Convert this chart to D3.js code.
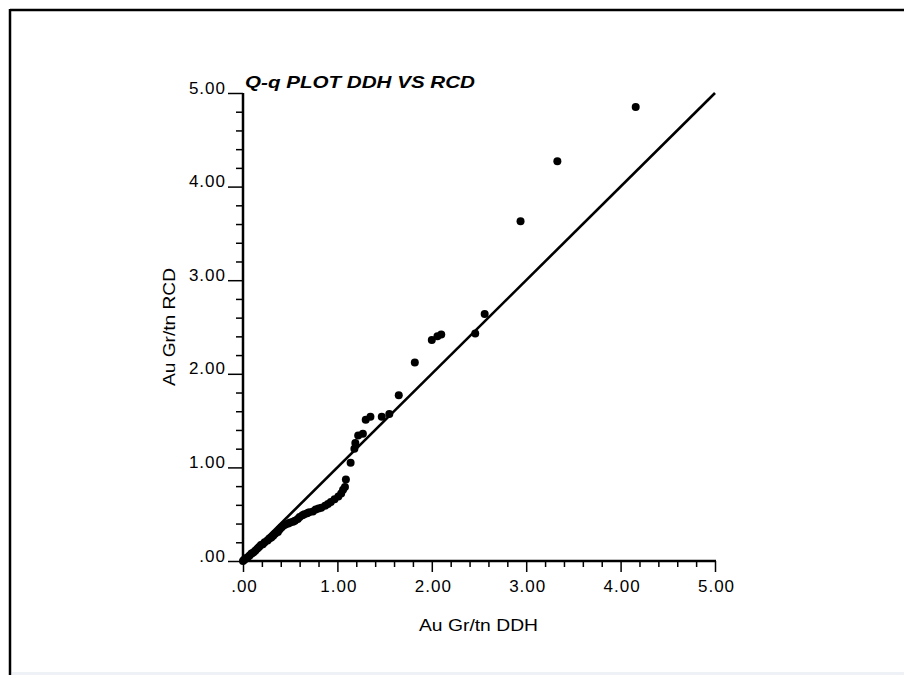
<!DOCTYPE html>
<html>
<head>
<meta charset="utf-8">
<script src="https://cdn.jsdelivr.net/npm/d3@7"></script>
<style>
  html, body { margin: 0; padding: 0; background: #fff; }
  svg { display: block; }
  text { font-family: "Liberation Sans", Arial, sans-serif; fill: #000; }
</style>
</head>
<body>
<svg id="chart" width="904" height="675"></svg>
<script>
// ---- data ----
const title = "Q-q PLOT DDH VS RCD";
const xTitle = "Au Gr/tn DDH";
const yTitle = "Au Gr/tn RCD";
const ddh = [0.00,0.01,0.02,0.03,0.05,0.07,0.09,0.11,0.13,0.15,0.17,0.19,0.21,0.23,0.26,0.28,0.30,0.32,0.34,0.37,0.39,0.41,0.43,0.45,0.48,0.50,0.53,0.55,0.58,0.60,0.63,0.65,0.68,0.70,0.74,0.77,0.80,0.83,0.87,0.90,0.93,0.97,1.01,1.04,1.06,1.08,1.09,1.14,1.18,1.19,1.22,1.27,1.30,1.35,1.47,1.55,1.65,1.82,2.00,2.06,2.10,2.46,2.56,2.94,3.33,4.16];
const rcd = [0.00,0.01,0.02,0.03,0.04,0.06,0.08,0.09,0.11,0.13,0.15,0.17,0.18,0.20,0.22,0.24,0.25,0.27,0.29,0.31,0.34,0.36,0.38,0.39,0.40,0.41,0.42,0.43,0.45,0.47,0.49,0.50,0.51,0.52,0.53,0.55,0.56,0.57,0.59,0.61,0.63,0.66,0.69,0.72,0.76,0.79,0.87,1.05,1.20,1.26,1.34,1.36,1.51,1.54,1.54,1.57,1.77,2.12,2.36,2.40,2.42,2.43,2.64,3.63,4.27,4.85];
const refLine = [0, 5];
const majorTicks = [0, 1, 2, 3, 4, 5];
const tickLabels = [".00", "1.00", "2.00", "3.00", "4.00", "5.00"];
const minorTicks = d3.range(0, 26).map(i => i / 5).filter(v => Math.abs(v - Math.round(v)) > 1e-9);

// ---- layout ----
const svg = d3.select("#chart");
const x = d3.scaleLinear().domain([0, 5]).range([243, 715]);
const y = d3.scaleLinear().domain([0, 5]).range([561, 93]);

// frame lines
svg.append("rect").attr("x", 12).attr("y", 672).attr("width", 892).attr("height", 3).attr("fill", "#eef1f5");
svg.append("line").attr("x1", 10).attr("x2", 904).attr("y1", 10).attr("y2", 10).attr("stroke", "#000").attr("stroke-width", 2.5);
svg.append("line").attr("x1", 10).attr("x2", 10).attr("y1", 9).attr("y2", 675).attr("stroke", "#000").attr("stroke-width", 2.5);

// axes via d3
const xMajor = d3.axisBottom(x).tickValues(majorTicks).tickSize(11).tickFormat((d, i) => tickLabels[i]);
const xMinor = d3.axisBottom(x).tickValues(minorTicks).tickSize(6).tickFormat("");
const yMajor = d3.axisLeft(y).tickValues(majorTicks).tickSize(15).tickFormat((d, i) => tickLabels[i]).tickPadding(2);
const yMinor = d3.axisLeft(y).tickValues(minorTicks).tickSize(7).tickFormat("");

function styleAxis(g) {
  g.attr("font-size", null).attr("font-family", null);
  g.select(".domain").remove();
  g.selectAll(".tick line").attr("stroke", "#000").attr("stroke-width", 1.5);
  g.selectAll("text")
    .style("font-size", "17px").style("letter-spacing", "1px")
    .style("font-family", "'Liberation Sans', Arial, sans-serif").attr("fill", "#000");
}

const gx = svg.append("g").attr("transform", `translate(0,${y(0)})`).call(xMajor).call(styleAxis);
gx.selectAll("text").attr("dy", null).attr("y", 31).attr("dx", "1px");
svg.append("g").attr("transform", `translate(0,${y(0)})`).call(xMinor).call(styleAxis);
const gy = svg.append("g").attr("transform", `translate(${x(0)},0)`).call(yMajor).call(styleAxis);
gy.selectAll("text").attr("dy", "0").attr("y", 0);
svg.append("g").attr("transform", `translate(${x(0)},0)`).call(yMinor).call(styleAxis);

// axis lines
svg.append("line").attr("x1", x(0)).attr("x2", x(5) + 1).attr("y1", y(0)).attr("y2", y(0)).attr("stroke", "#000").attr("stroke-width", 2.5);
svg.append("line").attr("x1", x(0)).attr("x2", x(0)).attr("y1", y(5)).attr("y2", y(0)).attr("stroke", "#000").attr("stroke-width", 2.5);

// reference line
svg.append("line")
  .attr("x1", x(refLine[0])).attr("y1", y(refLine[0]))
  .attr("x2", x(refLine[1])).attr("y2", y(refLine[1]))
  .attr("stroke", "#000").attr("stroke-width", 2.6);

// points
svg.append("g").selectAll("circle").data(ddh.map((d, i) => [d, rcd[i]])).join("circle")
  .attr("cx", d => x(d[0])).attr("cy", d => y(d[1])).attr("r", 4).attr("fill", "#000");

// titles
svg.append("text").attr("x", 245).attr("y", 88).text(title)
  .style("font-size", "17px").attr("font-weight", "bold").attr("font-style", "italic")
  .attr("textLength", 230).attr("lengthAdjust", "spacingAndGlyphs");
svg.append("text").attr("x", 419).attr("y", 631).text(xTitle)
  .style("font-size", "17px").attr("textLength", 119).attr("lengthAdjust", "spacingAndGlyphs");
svg.append("text").attr("transform", "translate(175,386) rotate(-90)").text(yTitle)
  .style("font-size", "17px").attr("textLength", 118).attr("lengthAdjust", "spacingAndGlyphs");
</script>
</body>
</html>
